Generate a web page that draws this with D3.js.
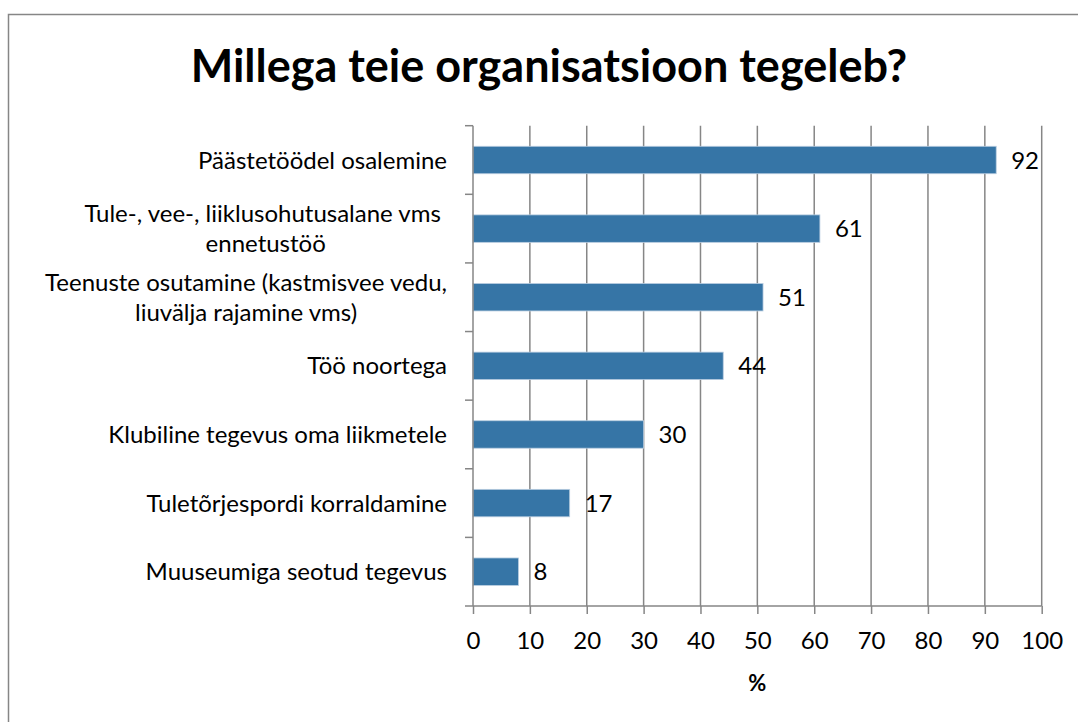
<!DOCTYPE html>
<html><head><meta charset="utf-8">
<script src="https://cdn.jsdelivr.net/npm/d3@7"></script>
<style>body{margin:0;background:#fff}svg{display:block}text{font-family:Lato,"Open Sans",sans-serif;fill:#000}</style>
</head><body><svg id="c" width="1078" height="722"></svg>
<script>
const title = "Millega teie organisatsioon tegeleb?";
const categories = [
  ["Päästetöödel osalemine"],
  ["Tule-, vee-, liiklusohutusalane vms ", "ennetustöö"],
  ["Teenuste osutamine (kastmisvee vedu,", "liuvälja rajamine vms)"],
  ["Töö noortega"],
  ["Klubiline tegevus oma liikmetele"],
  ["Tuletõrjespordi korraldamine"],
  ["Muuseumiga seotud tegevus"]
];
const values = [92, 61, 51, 44, 30, 17, 8];
const xTicks = [0,10,20,30,40,50,60,70,80,90,100];
const xLabel = "%";

const svg = d3.select("#c");
svg.append("rect").attr("x",8.5).attr("y",14.5).attr("width",1100).attr("height",750)
  .attr("fill","#fff").attr("stroke","#868686").attr("stroke-width",1.5);

const L=473, R=1041.7, T=125.7, B=606;
const x = d3.scaleLinear().domain([0,100]).range([L,R]);
const y = d3.scaleBand().domain(d3.range(categories.length)).range([T,B]).paddingInner(0.6).paddingOuter(0.3);

svg.append("text").attr("x",549).attr("y",82).attr("text-anchor","middle")
  .attr("font-size",45).attr("font-weight","bold").text(title);

// gridlines
svg.append("g").selectAll("line").data(xTicks.slice(1)).join("line")
  .attr("x1",d=>x(d)).attr("x2",d=>x(d)).attr("y1",T).attr("y2",B)
  .attr("stroke","#868686").attr("stroke-width",1.5);

// bars
svg.append("g").selectAll("rect").data(values).join("rect")
  .attr("x",x(0)).attr("y",(d,i)=>y(i)).attr("width",d=>x(d)-x(0)).attr("height",y.bandwidth())
  .attr("fill","#3675a6").attr("stroke","#b9cde0").attr("stroke-width",0.8);

// value labels
svg.append("g").selectAll("text").data(values).join("text")
  .attr("x",d=>x(d)+15).attr("y",(d,i)=>y(i)+y.bandwidth()/2).attr("dy","0.36em")
  .attr("font-size",24).text(d=>d);

// x axis
const xa = svg.append("g").attr("transform",`translate(0,${B})`)
  .call(d3.axisBottom(x).tickValues(xTicks).tickSize(8).tickFormat(d3.format("d")));
xa.select(".domain").attr("stroke","#868686").attr("stroke-width",1.5).attr("d",`M${L},0H${R}`);
xa.selectAll(".tick line").attr("stroke","#868686").attr("stroke-width",1.5);
xa.selectAll(".tick text").attr("font-size",24).attr("font-family","Lato").attr("fill","#000")
  .attr("y",43).attr("dy",0);

// y axis line + ticks at boundaries
const step = (B-T)/categories.length;
const bounds = d3.range(categories.length+1).map(i=>T+i*step);
svg.append("line").attr("x1",L).attr("x2",L).attr("y1",T).attr("y2",B).attr("stroke","#868686").attr("stroke-width",1.5);
svg.append("g").selectAll("line").data(bounds).join("line")
  .attr("x1",L-8).attr("x2",L).attr("y1",d=>d).attr("y2",d=>d)
  .attr("stroke","#868686").attr("stroke-width",1.5);

// category labels
const cl = svg.append("g").selectAll("text").data(categories).join("text")
  .attr("text-anchor","middle").attr("font-size",24).style("white-space","pre");
cl.each(function(lines,i){
  const t=d3.select(this);
  const cy=y(i)+y.bandwidth()/2;
  lines.forEach((s,j)=>{
    t.append("tspan").attr("x",0).attr("y",cy+(j-(lines.length-1)/2)*30).attr("dy","0.36em").text(s);
  });
});
cl.each(function(lines){
  const t=d3.select(this);
  const bw=this.getBBox().width;
  t.selectAll("tspan").attr("x",447-bw/2);
});

svg.append("text").attr("x",(L+R)/2).attr("y",691).attr("text-anchor","middle")
  .attr("font-size",22).attr("font-weight","bold").text(xLabel);
</script></body></html>
